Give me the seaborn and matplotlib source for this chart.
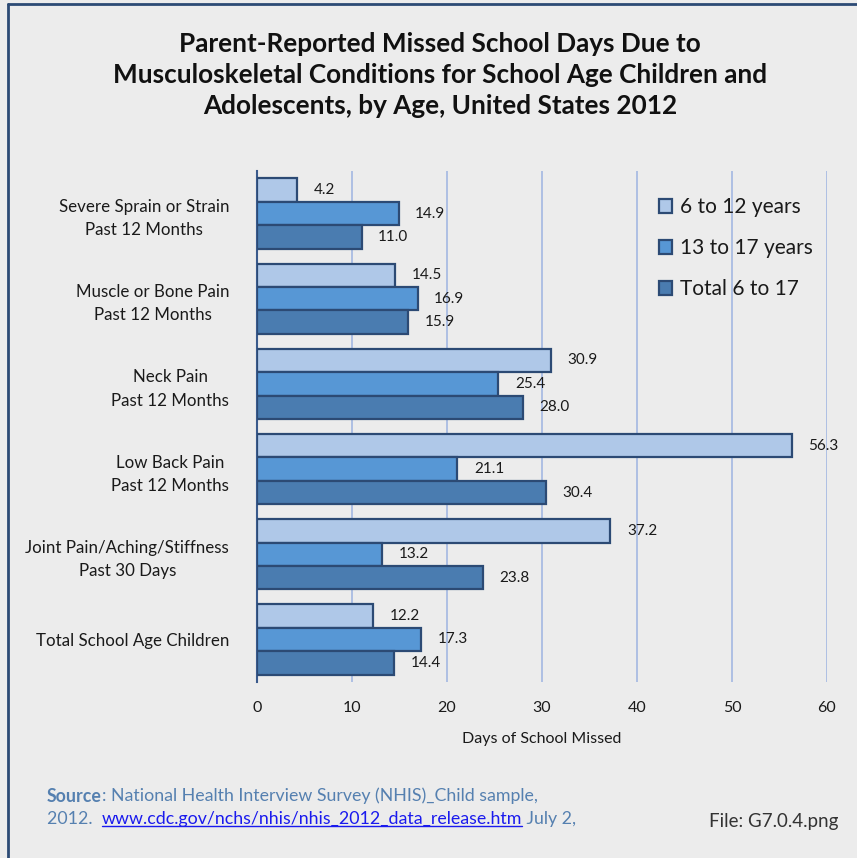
import matplotlib
matplotlib.use("Agg")
import matplotlib.pyplot as plt
from matplotlib.lines import Line2D
import seaborn as sns
import pandas as pd

categories = [
    "Severe Sprain or Strain\nPast 12 Months",
    "Muscle or Bone Pain\nPast 12 Months",
    "Neck Pain\nPast 12 Months",
    "Low Back Pain\nPast 12 Months",
    "Joint Pain/Aching/Stiffness\nPast 30 Days",
    "Total School Age Children",
]
series_names = ["6 to 12 years", "13 to 17 years", "Total 6 to 17"]
age_6_12 = [4.2, 14.5, 30.9, 56.3, 37.2, 12.2]
age_13_17 = [14.9, 16.9, 25.4, 21.1, 13.2, 17.3]
total_6_17 = [11.0, 15.9, 28.0, 30.4, 23.8, 14.4]
x_ticks = [0, 10, 20, 30, 40, 50, 60]

rows = []
for name, vals in zip(series_names, [age_6_12, age_13_17, total_6_17]):
    for cat, v in zip(categories, vals):
        rows.append({"Condition": cat, "Group": name, "Days": v})
df = pd.DataFrame(rows)

sns.set_theme(style="white")
plt.rcParams["font.family"] = ["Lato", "DejaVu Sans"]

bg = "#ececec"
fig = plt.figure(figsize=(8.57, 8.58), dpi=100, facecolor=bg)
ax = fig.add_axes([257 / 857, 1 - 682 / 858, (827 - 257) / 857, (682 - 171) / 858])
ax.set_facecolor(bg)

palette = ["#afc8e8", "#5797d5", "#4a7cb0"]
sns.barplot(data=df, y="Condition", x="Days", hue="Group", hue_order=series_names,
            order=categories, palette=palette, orient="h", width=0.825,
            edgecolor="#2c4a74", linewidth=1.6, saturation=1, ax=ax, zorder=3)

for cont in ax.containers:
    ax.bar_label(cont, fmt="%.1f", padding=12, fontsize=11, color="#1a1a1a")

ax.set_xlim(0, 60)
ax.set_ylim(5.5, -0.5)
ax.set_xticks(x_ticks)
ax.set_xticklabels([str(t) for t in x_ticks], fontsize=11.5, color="#1a1a1a")
ax.grid(axis="x", color="#a3b8e2", linewidth=1.2, zorder=0)
ax.set_axisbelow(True)
for side in ["top", "right", "bottom"]:
    ax.spines[side].set_visible(False)
ax.spines["left"].set_color("#3a5a8c")
ax.spines["left"].set_linewidth(1.5)
ax.tick_params(axis="x", length=0, pad=14)
ax.tick_params(axis="y", length=0, pad=20)
for lab in ax.get_yticklabels():
    lab.set_multialignment("center")
    lab.set_fontsize(12.2)
    lab.set_linespacing(1.55)
    lab.set_color("#1a1a1a")
ax.set_ylabel("")
ax.set_xlabel("Days of School Missed", fontsize=11.5, color="#1a1a1a", labelpad=12)

leg = ax.legend(loc="upper left", bbox_to_anchor=(0.672, 0.985), frameon=False,
                fontsize=15, labelspacing=1.0, handlelength=0.65, handleheight=0.65,
                handletextpad=0.35)
for h in leg.legend_handles:
    h.set_edgecolor("#2c4a74")
    h.set_linewidth(1.6)
for t in leg.get_texts():
    t.set_color("#1a1a1a")

fig.text(440 / 857, 1 - 75 / 858,
         "Parent-Reported Missed School Days Due to\n"
         "Musculoskeletal Conditions for School Age Children and\n"
         "Adolescents, by Age, United States 2012",
         ha="center", va="center", fontsize=18.8, fontweight="bold",
         linespacing=1.36, color="#111111")

# frame edges along the top and left of the figure
fig.add_artist(Line2D([8 / 857, 8 / 857], [0, 1 - 4 / 858], color="#2c4a74", lw=2,
                      transform=fig.transFigure))
fig.add_artist(Line2D([8 / 857, 1], [1 - 4 / 858, 1 - 4 / 858], color="#2c4a74", lw=2,
                      transform=fig.transFigure))

# source note
src_col = "#5580b0"
fs = 12.8
fig.canvas.draw()
r = fig.canvas.get_renderer()
t1 = fig.text(47 / 857, 1 - 796 / 858, "Source", fontsize=fs, fontweight="bold",
              color=src_col, va="center")
fig.canvas.draw()
bb = t1.get_window_extent(r)
fig.text(bb.x1 / 857, 1 - 796 / 858, ": National Health Interview Survey (NHIS)_Child sample,",
         fontsize=fs, color=src_col, va="center")
t3 = fig.text(47 / 857, 1 - 819 / 858, "2012.  ", fontsize=fs, color=src_col, va="center")
fig.canvas.draw()
bb3 = t3.get_window_extent(r)
t4 = fig.text(bb3.x1 / 857, 1 - 819 / 858, "www.cdc.gov/nchs/nhis/nhis_2012_data_release.htm",
              fontsize=fs, color="#1a1aee", va="center")
fig.canvas.draw()
bb4 = t4.get_window_extent(r)
fig.add_artist(Line2D([bb4.x0 / 857, bb4.x1 / 857], [(bb4.y0 + 1) / 858, (bb4.y0 + 1) / 858],
                      color="#1a1aee", lw=1, transform=fig.transFigure))
fig.text(bb4.x1 / 857, 1 - 819 / 858, " July 2,", fontsize=fs, color=src_col, va="center")
fig.text(838 / 857, 1 - 821 / 858, "File: G7.0.4.png", fontsize=13.5, color="#333333",
         ha="right", va="center")

fig.savefig("out.png", dpi=100, facecolor=bg)
